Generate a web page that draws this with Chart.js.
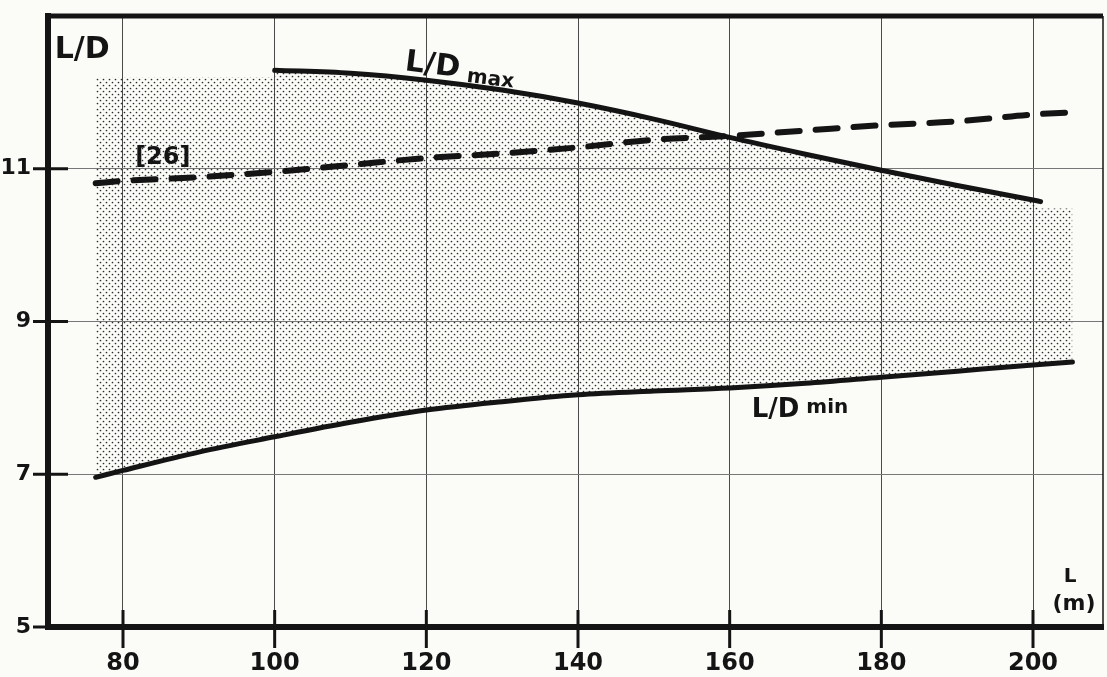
<!DOCTYPE html>
<html>
<head>
<meta charset="utf-8">
<script src="https://cdn.jsdelivr.net/npm/chart.js@4.4.0/dist/chart.umd.min.js"></script>
<style>
html,body{margin:0;padding:0;background:#fbfbf8;}
#wrap{width:1107px;height:677px;}
</style>
</head>
<body>
<div id="wrap"><canvas id="c" width="1107" height="677"></canvas></div>
<script>
// ---- data ----
const xTicks = [80, 100, 120, 140, 160, 180, 200];
const yTicks = [5, 7, 9, 11];

const maxL  = [100, 110, 120, 130, 140, 150, 160, 170, 180, 190, 200, 201];
const maxLD = [12.29, 12.25, 12.16, 12.03, 11.86, 11.65, 11.41, 11.19, 10.98, 10.78, 10.59, 10.57];

const minL  = [76.4, 80, 90, 100, 110, 120, 130, 140, 150, 160, 170, 180, 190, 200, 205.2];
const minLD = [6.96, 7.05, 7.29, 7.49, 7.68, 7.84, 7.95, 8.04, 8.09, 8.13, 8.19, 8.27, 8.35, 8.43, 8.47];

const refL  = [76.4, 80, 90, 100, 110, 120, 130, 140, 150, 160, 170, 180, 190, 200, 205.3];
const refLD = [10.81, 10.84, 10.89, 10.96, 11.05, 11.14, 11.20, 11.28, 11.38, 11.43, 11.50, 11.57, 11.62, 11.71, 11.74];

// upper edge of the stippled (shaded) range
const bandL  = [76.4, 100, 100, 110, 120, 130, 140, 150, 160, 170, 180, 190, 200, 200.6, 205.2];
const bandLD = [12.19, 12.2, 12.29, 12.25, 12.16, 12.03, 11.86, 11.65, 11.41, 11.19, 10.98, 10.78, 10.59, 10.48, 10.48];

const toPts = (xs, ys) => xs.map((x, i) => ({x: x, y: ys[i]}));

function dotPattern() {
  const c = document.createElement('canvas');
  c.width = 6; c.height = 6;
  const g = c.getContext('2d');
  g.fillStyle = '#2c2c2c';
  g.beginPath(); g.arc(1.5, 1.5, 0.85, 0, Math.PI * 2); g.fill();
  g.beginPath(); g.arc(4.5, 4.5, 0.85, 0, Math.PI * 2); g.fill();
  return g.createPattern(c, 'repeat');
}

const FONT = '"DejaVu Sans", sans-serif';
const INK = '#141414';

const bgPlugin = {
  id: 'bg',
  beforeDraw(chart) {
    const ctx = chart.ctx;
    ctx.save();
    ctx.fillStyle = '#fbfbf8';
    ctx.fillRect(0, 0, chart.width, chart.height);
    ctx.restore();
  }
};

const framePlugin = {
  id: 'frame',
  afterDraw(chart) {
    const ctx = chart.ctx;
    const a = chart.chartArea;
    const xs = chart.scales.x, ys = chart.scales.y;
    ctx.save();
    ctx.strokeStyle = INK;
    ctx.lineCap = 'butt';
    // top border
    ctx.lineWidth = 5;
    ctx.beginPath(); ctx.moveTo(a.left - 3, a.top); ctx.lineTo(a.right, a.top); ctx.stroke();
    // right border (thin)
    ctx.lineWidth = 1.5;
    ctx.beginPath(); ctx.moveTo(a.right, a.top); ctx.lineTo(a.right, a.bottom); ctx.stroke();
    // crossing tick marks
    ctx.lineWidth = 3;
    xs.ticks.forEach(t => {
      const px = xs.getPixelForValue(t.value);
      ctx.beginPath(); ctx.moveTo(px, a.bottom - 17); ctx.lineTo(px, a.bottom + 21); ctx.stroke();
    });
    ys.ticks.forEach(t => {
      const py = ys.getPixelForValue(t.value);
      ctx.beginPath(); ctx.moveTo(a.left - 15, py); ctx.lineTo(a.left + 20, py); ctx.stroke();
    });
    // texts
    ctx.fillStyle = INK;
    ctx.textBaseline = 'alphabetic';
    const P = (x, y) => [xs.getPixelForValue(x), ys.getPixelForValue(y)];
    // axis titles
    let [px, py] = P(71.0, 12.45);
    ctx.font = 'bold 30px ' + FONT; ctx.textAlign = 'left';
    ctx.fillText('L/D', px, py);
    [px, py] = P(204.9, 5.59);
    ctx.font = 'bold 20px ' + FONT; ctx.textAlign = 'center';
    ctx.fillText('L', px, py);
    [px, py] = P(205.4, 5.22);
    ctx.font = 'bold 22px ' + FONT;
    ctx.fillText('(m)', px, py);
    // L/D max label (rotated)
    [px, py] = P(117.1, 12.29);
    ctx.save();
    ctx.translate(px, py);
    ctx.rotate(7 * Math.PI / 180);
    ctx.textAlign = 'left';
    ctx.font = 'bold 30px ' + FONT;
    ctx.fillText('L/D', 0, 0);
    const w1 = ctx.measureText('L/D').width;
    ctx.font = 'bold 20px ' + FONT;
    ctx.fillText('max', w1 + 8, 4);
    ctx.restore();
    // L/D min label
    [px, py] = P(162.9, 7.75);
    ctx.textAlign = 'left';
    ctx.font = 'bold 26px ' + FONT;
    ctx.fillText('L/D', px, py);
    const w2 = ctx.measureText('L/D').width;
    ctx.font = 'bold 20px ' + FONT;
    ctx.fillText('min', px + w2 + 7, py - 4);
    // [26] reference label
    [px, py] = P(81.6, 11.06);
    ctx.font = 'bold 24px ' + FONT;
    ctx.fillText('[26]', px, py);
    ctx.restore();
  }
};

new Chart(document.getElementById('c'), {
  type: 'line',
  data: {
    datasets: [
      {
        label: 'band',
        data: toPts(bandL, bandLD),
        borderWidth: 0,
        borderColor: 'rgba(0,0,0,0)',
        pointRadius: 0,
        tension: 0,
        fill: {target: 1},
        backgroundColor: dotPattern(),
        order: 4
      },
      {
        label: 'L/D min',
        data: toPts(minL, minLD),
        borderColor: INK,
        borderWidth: 5,
        borderCapStyle: 'round',
        pointRadius: 0,
        cubicInterpolationMode: 'monotone',
        fill: false,
        order: 3
      },
      {
        label: 'L/D max',
        data: toPts(maxL, maxLD),
        borderColor: INK,
        borderWidth: 5,
        borderCapStyle: 'round',
        pointRadius: 0,
        cubicInterpolationMode: 'monotone',
        fill: false,
        order: 2
      },
      {
        label: '[26]',
        data: toPts(refL, refLD),
        borderColor: INK,
        borderWidth: 6,
        borderDash: [22, 16],
        borderCapStyle: 'round',
        pointRadius: 0,
        cubicInterpolationMode: 'monotone',
        fill: false,
        order: 1
      }
    ]
  },
  options: {
    responsive: false,
    animation: false,
    devicePixelRatio: 1,
    layout: {padding: {top: 16, right: 4, left: 0, bottom: 0}},
    plugins: {legend: {display: false}, tooltip: {enabled: false}},
    scales: {
      x: {
        type: 'linear',
        min: 70.11,
        max: 209.23,
        afterBuildTicks(s) { s.ticks = xTicks.map(v => ({value: v})); },
        afterFit(s) { s.height = 50; s.paddingLeft = 0; s.paddingRight = 0; },
        grid: {color: '#4a4a4a', lineWidth: 1, drawTicks: false},
        border: {display: true, color: INK, width: 6},
        ticks: {
          padding: 22,
          color: INK,
          font: {family: FONT, size: 24, weight: 'bold'},
          maxRotation: 0,
          callback: v => String(v)
        }
      },
      y: {
        type: 'linear',
        min: 5,
        max: 13,
        afterBuildTicks(s) { s.ticks = yTicks.map(v => ({value: v})); },
        afterFit(s) { s.width = 48; s.paddingTop = 0; s.paddingBottom = 0; },
        grid: {color: '#777', lineWidth: 1, drawTicks: false},
        border: {display: true, color: INK, width: 6},
        ticks: {
          padding: 17,
          color: INK,
          font: {family: FONT, size: 22, weight: 'bold'},
          callback: v => String(v)
        }
      }
    }
  },
  plugins: [bgPlugin, framePlugin]
});
</script>
</body>
</html>
